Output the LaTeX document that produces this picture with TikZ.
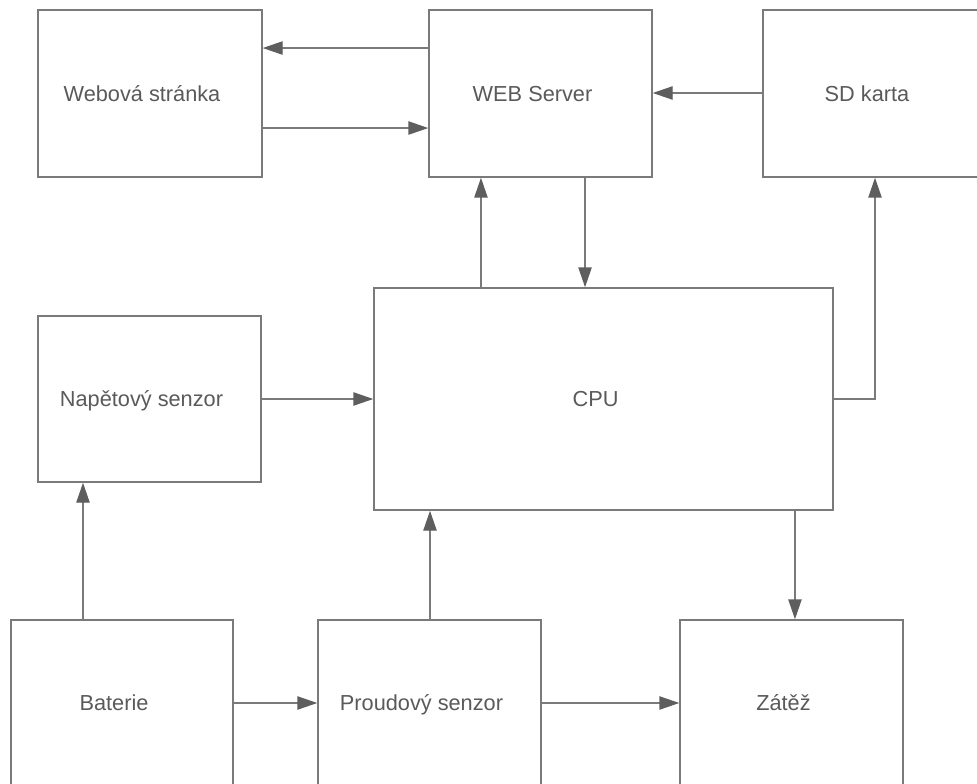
\documentclass[tikz,border=0pt]{standalone}
\usepackage{fontspec}
\setmainfont{Liberation Sans}
\usetikzlibrary{arrows.meta}
\definecolor{boxgray}{HTML}{7A7A7A}
\definecolor{tipgray}{HTML}{5E5E5E}
\definecolor{txtgray}{HTML}{5A5A5A}
\newcommand{\lbl}[1]{#1\kern12pt}
\begin{document}
\begin{tikzpicture}[x=0.75pt,y=-0.75pt,
  blk/.style={draw=boxgray, line width=1.1pt, fill=white, rectangle, inner sep=0pt,
    minimum width=#1*0.75pt, text=txtgray, text height=11.7pt, text depth=0pt,
    font=\fontsize{16.3}{19}\selectfont},
  blk/.default=223,
  arr/.style={draw=boxgray, line width=1.1pt, -{Triangle[length=15pt,width=10pt,color=tipgray]}}]
\useasboundingbox (0,0) rectangle (977,784);
\fill[white] (0,0) rectangle (977,784);
% nodes
\node[blk=224, minimum height=167*0.75pt] (web)  at (150,93.5)   {\lbl{Webová stránka}};
\node[blk=223, minimum height=167*0.75pt] (srv)  at (540.5,93.5) {\lbl{WEB Server}};
\node[blk=224, minimum height=167*0.75pt] (sd)   at (875,93.5)   {\lbl{SD karta}};
\node[blk=223, minimum height=166*0.75pt] (nap)  at (149.5,399)  {\lbl{Napětový senzor}};
\node[blk=459, minimum height=222*0.75pt] (cpu)  at (603.5,399)  {\lbl{CPU}};
\node[blk=222, minimum height=166*0.75pt] (bat)  at (122,703)    {\lbl{Baterie}};
\node[blk=223, minimum height=166*0.75pt] (prou) at (429.5,703)  {\lbl{Proudový senzor}};
\node[blk=223, minimum height=166*0.75pt] (zat)  at (791.5,703)  {\lbl{Zátěž}};
% connectors
\draw[arr] ([yshift=34.1pt]srv.west) -- ([yshift=34.1pt]srv.west -| web.east);
\draw[arr] ([yshift=-25.9pt]web.east) -- ([yshift=-25.9pt]web.east -| srv.west);
\draw[arr] ([yshift=0.375pt]sd.west) -- ([yshift=0.375pt]srv.east);
\draw[arr] ([xshift=-91.9pt]cpu.north) -- ([xshift=-91.9pt]cpu.north |- srv.south);
\draw[arr] ([xshift=33.4pt]srv.south) -- ([xshift=33.4pt]srv.south |- cpu.north);
\draw[arr] (cpu.east) -| (sd.south);
\draw[arr] (nap.east) -- (cpu.west);
\draw[arr] ([xshift=-29.25pt]bat.north) -- ([xshift=-29.25pt]bat.north |- nap.south);
\draw[arr] ([xshift=0.375pt]prou.north) -- ([xshift=0.375pt]prou.north |- cpu.south);
\draw[arr] ([xshift=2.6pt]zat.north |- cpu.south) -- ([xshift=2.6pt]zat.north);
\draw[arr] (bat.east) -- (prou.west);
\draw[arr] (prou.east) -- (zat.west);
\end{tikzpicture}
\end{document}
